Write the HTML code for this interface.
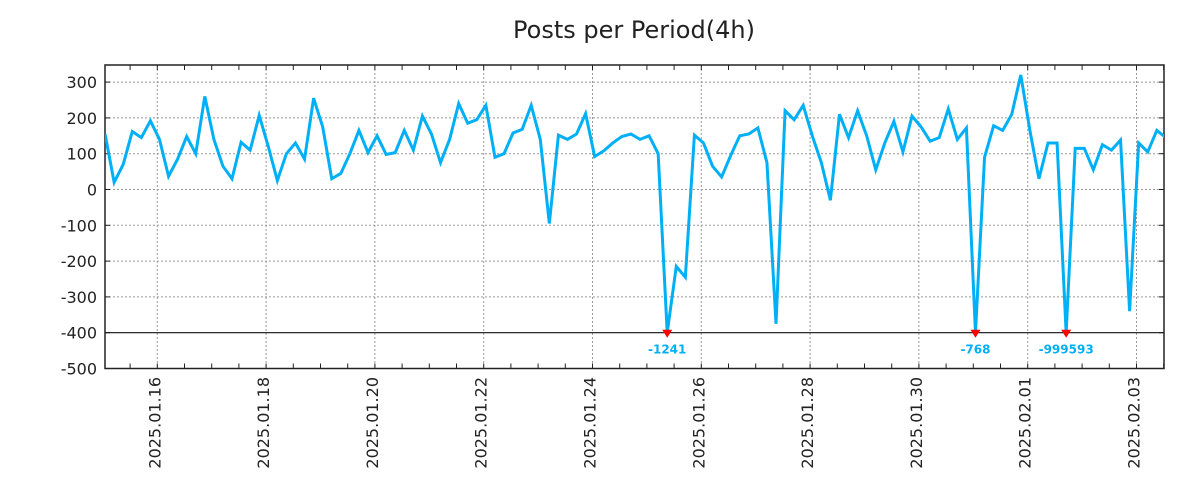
<!DOCTYPE html>
<html><head><meta charset="utf-8"><style>
body{margin:0;background:#fff;}
svg{display:block;font-family:"DejaVu Sans","Liberation Sans",sans-serif;}
</style></head><body>
<svg id="chart" width="1200" height="500" xmlns="http://www.w3.org/2000/svg">
<defs><clipPath id="pc"><rect x="105" y="65" width="1059" height="304"/></clipPath></defs>
<text x="634" y="38" text-anchor="middle" font-size="24" fill="#222">Posts per Period(4h)</text>
<g id="grid"></g><g id="axes"></g><g id="series" clip-path="url(#pc)"></g><g id="marks"></g>
</svg>
<script>
const values = [155,20,70,162,145,192,140,37,85,148,100,260,140,65,30,132,110,207,120,25,100,130,85,255,175,30,45,100,165,103,150,98,103,165,110,205,155,75,140,240,185,195,235,90,100,158,168,235,140,-95,152,140,155,212,92,108,130,148,155,140,150,100,-1241,-215,-245,152,130,65,35,95,150,155,172,75,-375,220,195,235,150,75,-30,210,145,220,150,55,130,190,105,205,175,135,145,225,140,172,-768,90,178,165,210,320,165,30,130,130,-999593,115,115,55,125,110,138,-340,130,105,165,145];
const yTicks = [300,200,100,0,-100,-200,-300,-400,-500];
const xTickLabels = ["2025.01.16","2025.01.18","2025.01.20","2025.01.22","2025.01.24","2025.01.26","2025.01.28","2025.01.30","2025.02.01","2025.02.03"];
const startDay = -0.96, stepDay = 1/6, floorVal = -400;
const L=105,R=1164,T=65,B=368.5;
const dMin=-0.96, dMax=18.54;
const X=d=>157.3+d*54.4;
const Y=v=>189.5-v*0.358;
const ns="http://www.w3.org/2000/svg";
function mk(tag,attrs,parent){const e=document.createElementNS(ns,tag);for(const k in attrs)e.setAttribute(k,attrs[k]);parent.appendChild(e);return e;}
const grid=document.getElementById('grid'),axes=document.getElementById('axes'),series=document.getElementById('series'),marks=document.getElementById('marks');
yTicks.forEach(v=>{
  if(v>-500 && v!==-400){const g=mk('line',{x1:L,x2:R,y1:Y(v),y2:Y(v),stroke:'#999','stroke-dasharray':'2,2'},grid);
  
  }
  const t=mk('text',{x:97,y:Y(v)+6,'text-anchor':'end','font-size':'16',fill:'#222'},axes);t.textContent=v;
  
  
  mk('line',{x1:L,x2:L+5,y1:Y(v),y2:Y(v),stroke:'#222'},axes);
  mk('line',{x1:R,x2:R-5,y1:Y(v),y2:Y(v),stroke:'#222'},axes);
});
xTickLabels.forEach((s,i)=>{
  const x=X(i*2);
  const g=mk('line',{x1:x,x2:x,y1:T,y2:B,stroke:'#999','stroke-dasharray':'2,2'},grid);
  
  
  const t=mk('text',{x:0,y:0,'text-anchor':'end','font-size':'16',fill:'#222',transform:`translate(${x+3},377) rotate(-90)`},axes);
  t.textContent=s;
  
  
});
for(let d=-0.5;d<dMax;d+=0.5){const x=X(d);if(x<L)continue;
  mk('line',{x1:x,x2:x,y1:T,y2:T+5,stroke:'#222'},axes);
  mk('line',{x1:x,x2:x,y1:B,y2:B-5,stroke:'#222'},axes);}
const fl=mk('line',{x1:L,x2:R,y1:Y(-400),y2:Y(-400),stroke:'#111','stroke-width':1.2},axes);


const fr=mk('rect',{x:L,y:T,width:R-L,height:B-T,fill:'none',stroke:'#222','stroke-width':1.5},axes);


const pts=values.map((v,i)=>[X(startDay+i*stepDay),Y(Math.max(v,floorVal))]);
const pl=mk('polyline',{points:pts.map(p=>p.join(',')).join(' '),fill:'none',stroke:'#00b0f6','stroke-width':3,'stroke-linejoin':'miter'},series);


values.forEach((v,i)=>{if(v<floorVal){const x=pts[i][0],y=Y(floorVal);
  const m=mk('polygon',{points:`${x-5},${y-3} ${x+5},${y-3} ${x},${y+5}`,fill:'#f00'},marks);
  
  
  const t=mk('text',{x:x,y:y+21,'text-anchor':'middle','font-size':'12','font-weight':'bold',fill:'#00b0f6'},marks);
  t.textContent=v;
  
  }});
</script>
</body></html>
